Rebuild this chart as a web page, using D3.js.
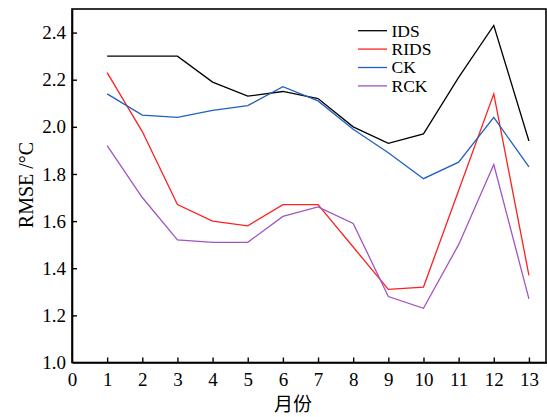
<!DOCTYPE html>
<html><head><meta charset="utf-8">
<script src="https://cdn.jsdelivr.net/npm/d3@7"></script>
<style>body{margin:0;background:#fff}svg{display:block}</style>
</head><body>
<svg id="c" width="547" height="417"></svg>
<script>
const months = [1,2,3,4,5,6,7,8,9,10,11,12,13];
const seriesNames = ["IDS","RIDS","CK","RCK"];
const seriesColors = ["#000000","#ff2020","#2060c0","#a055c0"];
const IDS  = [2.30,2.30,2.30,2.19,2.13,2.15,2.12,2.00,1.93,1.97,2.21,2.43,1.94];
const RIDS = [2.23,1.98,1.67,1.60,1.58,1.67,1.67,1.49,1.31,1.32,1.73,2.14,1.37];
const CK   = [2.14,2.05,2.04,2.07,2.09,2.17,2.11,1.99,1.89,1.78,1.85,2.04,1.83];
const RCK  = [1.92,1.70,1.52,1.51,1.51,1.62,1.66,1.59,1.28,1.23,1.50,1.84,1.27];
const xTicks = [0,1,2,3,4,5,6,7,8,9,10,11,12,13];
const yTicks = [1.0,1.2,1.4,1.6,1.8,2.0,2.2,2.4];
const seriesValues = [IDS,RIDS,CK,RCK];

const svg = d3.select("#c");
const L=72, T=9, R=546, B=362.5;
const x = d3.scaleLinear().domain([0,13.5]).range([L,R+0.5]);
const y = d3.scaleLinear().domain([1.0,2.5]).range([B,T]);
const font = "'Liberation Serif','Times New Roman',serif";

// box
svg.append("rect").attr("x",L).attr("y",T).attr("width",R-L).attr("height",B-T)
  .attr("fill","none").attr("stroke","#000").attr("stroke-width",1.6);

const xAxis = svg.append("g").attr("transform",`translate(0,${B})`)
  .call(d3.axisBottom(x).tickValues(xTicks).tickSizeInner(-5).tickSizeOuter(0).tickPadding(10).tickFormat(d3.format("d")));
const yAxis = svg.append("g").attr("transform",`translate(${L},0)`)
  .call(d3.axisLeft(y).tickValues(yTicks).tickSizeInner(-5).tickSizeOuter(0).tickPadding(6).tickFormat(d3.format(".1f")));
[xAxis,yAxis].forEach(g=>{
  g.select(".domain").attr("stroke","#000").attr("stroke-width",1.6);
  g.selectAll(".tick line").attr("stroke","#000").attr("stroke-width",1.4);
  g.selectAll(".tick text").attr("font-family",font).attr("font-size",19).attr("fill","#000");
});
xAxis.selectAll(".tick").filter(d=>d===0).select("line").remove();
yAxis.selectAll(".tick").filter(d=>d===1.0).select("line").remove();

// lines
const line = d3.line().x((d,i)=>x(months[i])).y(d=>y(d));
seriesValues.forEach((vals,k)=>{
  svg.append("path").datum(vals).attr("d",line).attr("fill","none")
    .attr("stroke",seriesColors[k]).attr("stroke-width",1.3);
});

// legend
const lg = svg.append("g");
seriesNames.forEach((n,k)=>{
  const yy = 30.7 + k*18.4;
  lg.append("line").attr("x1",358).attr("x2",387).attr("y1",yy).attr("y2",yy)
    .attr("stroke",seriesColors[k]).attr("stroke-width",1.3);
  lg.append("text").attr("x",391.5).attr("y",yy+5.8).text(n)
    .attr("font-family",font).attr("font-size",17.5).attr("fill","#000");
});

// axis titles
svg.append("text").attr("transform",`translate(33,185) rotate(-90)`)
  .attr("text-anchor","middle").attr("font-family",font).attr("font-size",20).text("RMSE /°C");
svg.append("text").attr("x",293).attr("y",411).attr("text-anchor","middle")
  .attr("font-family","'Noto Sans CJK SC',sans-serif").attr("font-size",19).text("月份");
</script>
</body></html>
